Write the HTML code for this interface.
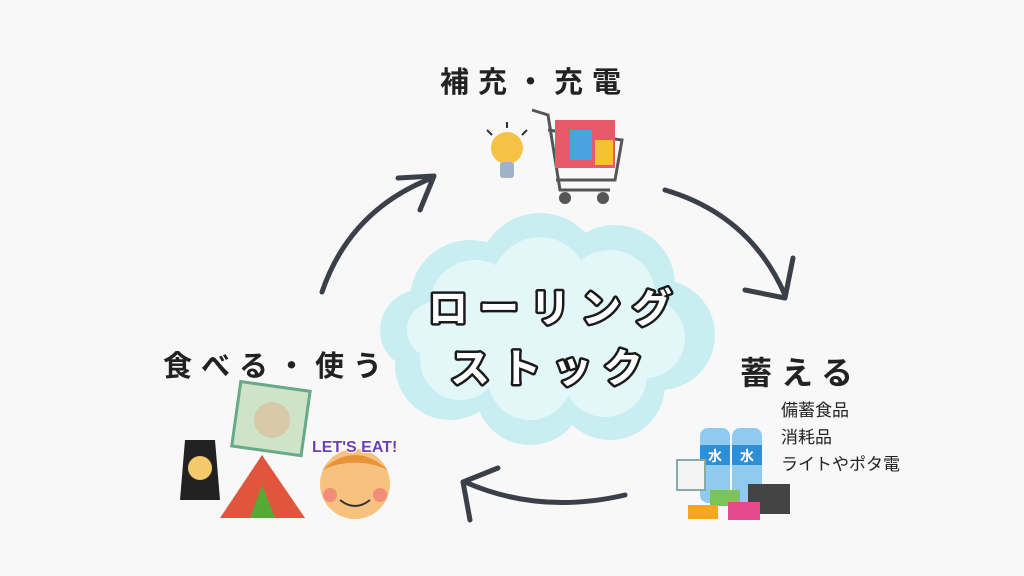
<!DOCTYPE html>
<html><head><meta charset="utf-8"><style>
html,body{margin:0;padding:0;background:#f8f8f8;}
svg{display:block}
text{font-family:"Liberation Sans","Noto Sans CJK JP",sans-serif;}
</style></head><body>
<svg width="1024" height="576" viewBox="0 0 1024 576" xmlns="http://www.w3.org/2000/svg">
<rect width="1024" height="576" fill="#f8f8f8"/>
<!-- cloud -->
<g fill="#c9eef2">
<circle cx="470" cy="300" r="60"/><circle cx="540" cy="275" r="62"/><circle cx="615" cy="285" r="60"/>
<circle cx="660" cy="335" r="55"/><circle cx="610" cy="385" r="55"/><circle cx="530" cy="390" r="55"/>
<circle cx="450" cy="365" r="55"/><circle cx="420" cy="330" r="40"/>
</g>
<g fill="#e3f7f9">
<circle cx="475" cy="305" r="45"/><circle cx="540" cy="285" r="48"/><circle cx="610" cy="295" r="45"/>
<circle cx="645" cy="338" r="40"/><circle cx="605" cy="375" r="42"/><circle cx="530" cy="378" r="42"/>
<circle cx="460" cy="360" r="40"/><circle cx="435" cy="330" r="28"/><rect x="460" y="300" width="170" height="80"/>
</g>
<g font-size="40" font-weight="bold" fill="#fff" stroke="#1a1a1a" stroke-width="5" paint-order="stroke" letter-spacing="11" stroke-linejoin="round">
<text x="428" y="322">ローリング</text>
<text x="450" y="382">ストック</text>
</g>
<!-- headings -->
<g font-size="29" font-weight="bold" fill="#222" letter-spacing="9">
<text x="440" y="92">補充・充電</text>
<text x="163" y="376">食べる・使う</text>
<text x="740" y="384" font-size="32">蓄える</text>
</g>
<g font-size="17" fill="#222">
<text x="781" y="416">備蓄食品</text>
<text x="781" y="443">消耗品</text>
<text x="781" y="470">ライトやポタ電</text>
</g>
<!-- arrows -->
<g fill="none" stroke="#3a3f4a" stroke-width="5" stroke-linecap="round" stroke-linejoin="round">
<path d="M322 292 Q350 210 432 178"/><path d="M398 178 L434 176 L420 210"/>
<path d="M665 190 Q750 215 785 295"/><path d="M745 290 L785 298 L793 258"/>
<path d="M625 495 Q540 515 465 482"/><path d="M470 520 L463 482 L498 468"/>
</g>
<!-- bulb -->
<circle cx="507" cy="148" r="16" fill="#f6c244"/><rect x="500" y="162" width="14" height="16" rx="3" fill="#9fb3c8"/>
<g stroke="#333" stroke-width="2"><line x1="487" y1="130" x2="492" y2="135"/><line x1="507" y1="122" x2="507" y2="128"/><line x1="527" y1="130" x2="522" y2="135"/></g>
<!-- cart -->
<g stroke="#555" stroke-width="3" fill="none"><path d="M532 110 L548 115 L560 190 L610 190"/><path d="M548 130 L622 140 L615 180 L556 180"/></g>
<rect x="555" y="120" width="60" height="48" fill="#e85a6a"/><rect x="570" y="130" width="22" height="30" fill="#4aa3e0"/><rect x="595" y="140" width="18" height="25" fill="#f2c230"/>
<circle cx="565" cy="198" r="6" fill="#555"/><circle cx="603" cy="198" r="6" fill="#555"/>
<!-- storage items -->
<rect x="700" y="428" width="30" height="75" rx="8" fill="#8ecbef"/><rect x="732" y="428" width="30" height="75" rx="8" fill="#8ecbef"/>
<rect x="700" y="445" width="30" height="20" fill="#2d8fd8"/><rect x="732" y="445" width="30" height="20" fill="#2d8fd8"/>
<text x="715" y="461" font-size="14" fill="#fff" font-weight="bold" text-anchor="middle">水</text>
<text x="747" y="461" font-size="14" fill="#fff" font-weight="bold" text-anchor="middle">水</text>
<rect x="677" y="460" width="28" height="30" fill="#f4f4f4" stroke="#8aa" stroke-width="2"/>
<rect x="748" y="484" width="42" height="30" fill="#444"/>
<rect x="710" y="490" width="30" height="16" fill="#7cc35a"/><rect x="728" y="502" width="32" height="18" fill="#e34b8c"/>
<rect x="688" y="505" width="30" height="14" fill="#f5a623"/>
<!-- eat items -->
<rect x="236" y="386" width="70" height="65" fill="#cfe3c9" stroke="#6a8" stroke-width="3" transform="rotate(8 270 418)"/>
<circle cx="272" cy="420" r="18" fill="#d8c9a8"/>
<path d="M185 440 L215 440 L220 500 L180 500 Z" fill="#222"/><circle cx="200" cy="468" r="12" fill="#f4c96b"/>
<path d="M220 518 L262 455 L305 518 Z" fill="#e0553d"/><path d="M250 518 L262 485 L275 518 Z" fill="#5a3"/>
<circle cx="355" cy="484" r="35" fill="#f6c27d"/><path d="M322 470 Q355 440 388 470 Q355 455 322 470" fill="#e8923a"/>
<text x="312" y="452" font-size="16" font-weight="bold" fill="#6c3fb5" stroke="#fff" stroke-width="2" paint-order="stroke">LET'S EAT!</text>
<circle cx="330" cy="495" r="7" fill="#f48c7a"/><circle cx="380" cy="495" r="7" fill="#f48c7a"/>
<path d="M340 500 Q355 512 370 500" stroke="#333" stroke-width="2" fill="none"/>
</svg>
</body></html>
